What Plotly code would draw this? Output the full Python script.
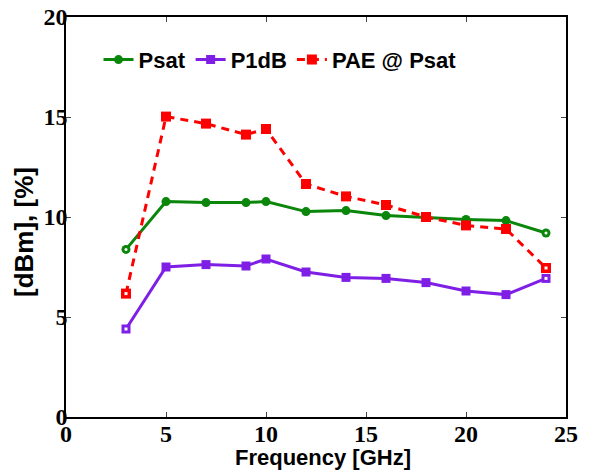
import plotly.graph_objects as go

freq = [3, 5, 7, 9, 10, 12, 14, 16, 18, 20, 22, 24]
psat = [8.38, 10.77, 10.72, 10.72, 10.77, 10.27, 10.32, 10.07, 9.98, 9.88, 9.82, 9.2]
p1db = [4.4, 7.5, 7.62, 7.55, 7.9, 7.25, 6.98, 6.93, 6.72, 6.3, 6.12, 6.93]
pae = [6.17, 15.02, 14.67, 14.12, 14.4, 11.65, 11.03, 10.6, 10.0, 9.58, 9.4, 7.45]

x_ticks = [0, 5, 10, 15, 20, 25]
y_ticks = [0, 5, 10, 15, 20]

GREEN = "#0a860a"
PURPLE = "#7f1fe6"
RED = "#ff0000"

fig = go.Figure()
series = [
    ("Psat", psat, GREEN, "circle", 9, None),
    ("P1dB", p1db, PURPLE, "square", 9, None),
    ("PAE @ Psat", pae, RED, "square", 10, "8px,6px"),
]
for name, vals, color, sym, size, dash in series:
    fig.add_trace(go.Scatter(
        x=freq, y=vals, name=name, mode="lines+markers",
        line=dict(color=color, width=3, dash=dash if dash else "solid"),
        marker=dict(symbol=sym, size=size, color=color, line=dict(width=0)),
    ))
for name, vals, color, sym, size, dash in series:
    ends_x = [freq[0], freq[-1]]
    ends_y = [vals[0], vals[-1]]
    fig.add_trace(go.Scatter(
        x=ends_x, y=ends_y, mode="markers", showlegend=False, hoverinfo="skip",
        marker=dict(symbol=sym, size=3, color="white", line=dict(width=0)),
    ))

tick_font = dict(family="Liberation Serif, Times New Roman, serif", size=24, color="black", weight="bold")
title_font = dict(family="Liberation Sans, Arial, sans-serif", size=22, color="black", weight="bold")

# the page body has an 8px margin, so the figure is drawn 8px smaller/offset
fig.update_layout(
    width=593, height=462,
    margin=dict(l=58, r=35, t=9, b=53),
    paper_bgcolor="white", plot_bgcolor="white",
    showlegend=True,
    legend=dict(
        orientation="h", x=0.065, y=0.893, xanchor="left", yanchor="middle",
        bgcolor="rgba(0,0,0,0)",
        font=dict(family="Liberation Sans, Arial, sans-serif", size=22, color="black", weight="bold"),
        itemwidth=30, tracegroupgap=0,
    ),
    xaxis=dict(
        range=[0, 25], tickvals=x_ticks, ticktext=[str(v) for v in x_ticks],
        ticks="inside", ticklen=5, tickcolor="#444", tickwidth=1,
        showline=True, linecolor="black", linewidth=1.5, mirror="ticks",
        showgrid=False, zeroline=False, automargin=False,
        ticklabeloverflow="allow", ticklabelstandoff=-6,
        tickfont=tick_font,
    ),
    yaxis=dict(
        range=[0, 20], tickvals=y_ticks, ticktext=[str(v) for v in y_ticks],
        ticks="inside", ticklen=5, tickcolor="#444", tickwidth=1,
        showline=True, linecolor="black", linewidth=1.5, mirror="ticks",
        showgrid=False, zeroline=False, automargin=False,
        ticklabeloverflow="allow", ticklabelstandoff=-8,
        tickfont=tick_font,
    ),
    annotations=[
        dict(text="Frequency [GHz]", xref="paper", yref="paper",
             x=0.514, y=-0.1, xanchor="center", yanchor="middle",
             showarrow=False, font=title_font),
        dict(text="[dBm], [%]", xref="paper", yref="paper",
             x=-0.084, y=0.4625, xanchor="center", yanchor="middle",
             textangle=-90, showarrow=False,
             font=dict(family="Liberation Sans, Arial, sans-serif", size=26, color="black", weight="bold")),
    ],
)

fig.write_html("out.html")
